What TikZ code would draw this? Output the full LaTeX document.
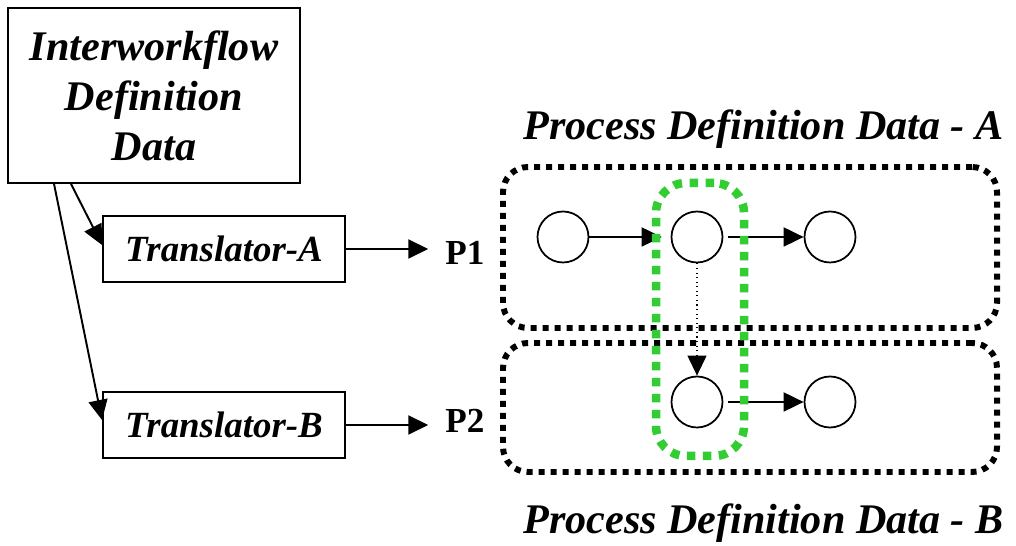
\documentclass[tikz,border=0pt]{standalone}
\usepackage{fontspec}
\setmainfont{Liberation Serif}
\usepackage{xcolor}
\usepackage{tikz}
\usetikzlibrary{arrows.meta}

\definecolor{mergegreen}{RGB}{50,205,50}

\begin{document}
\begin{tikzpicture}[
    defbox/.style={rectangle, draw, line width=1.1pt, align=center, font=\fontsize{24}{28.5}\selectfont\bfseries\itshape},
    trans/.style={rectangle, draw, line width=1.1pt, minimum width=4.84cm, minimum height=1.32cm, font=\fontsize{21}{25}\selectfont\bfseries\itshape},
    proc/.style={font=\fontsize{20}{24}\selectfont\bfseries, anchor=base},
    title/.style={font=\fontsize{24}{28}\selectfont\bfseries\itshape, anchor=base},
    act/.style={circle, draw, line width=1pt, minimum size=1.02cm, inner sep=0pt},
    link/.style={-{Triangle[length=0.4cm, width=0.38cm]}, line width=1.1pt},
    procarea/.style={rectangle, draw, rounded corners=0.5cm, line width=3.4pt, dash pattern=on 0.12cm off 0.12cm},
    merged/.style={rectangle, draw=mergegreen, rounded corners=0.6cm, line width=0.17cm, dash pattern=on 0.17cm off 0.15cm},
]
\useasboundingbox (0, 0) rectangle (20.32, 10.92);

% Interworkflow definition and translators
\node[defbox, minimum width=5.84cm, minimum height=3.5cm] (iwf) at (3.08, 9.01) {Interworkflow\\Definition\\Data};
\node[trans] (transA) at (4.48, 5.94) {Translator-A};
\node[trans] (transB) at (4.48, 2.42) {Translator-B};

% Generated processes
\node[proc] (p1) at (9.3, 5.62) {P1};
\node[proc] (p2) at (9.3, 2.26) {P2};

% Process definition areas
\node[procarea, minimum width=9.88cm, minimum height=3.22cm] (areaA) at (15.0, 5.97) {};
\node[procarea, minimum width=9.88cm, minimum height=2.58cm] (areaB) at (15.0, 2.77) {};
\node[title] (titleA) at (15.27, 8.12) {Process Definition Data - A};
\node[title] (titleB) at (15.27, 0.24) {Process Definition Data - B};

% Activities
\node[act] (a1) at (11.26, 6.18) {};
\node[act] (a2) at (13.94, 6.18) {};
\node[act] (a3) at (16.6, 6.18) {};
\node[act] (b2) at (13.94, 2.88) {};
\node[act] (b3) at (16.6, 2.88) {};

% === Translation links ===
\draw[link] ([xshift=1.28cm]iwf.south west) -- ([yshift=0.08cm]transA.west);
\draw[link] ([xshift=0.94cm]iwf.south west) -- ([yshift=0.1cm]transB.west);
\draw[link, shorten >=0.22cm] (transA.east) -- (transA.east -| p1.west);
\draw[link, shorten >=0.22cm] (transB.east) -- (transB.east -| p2.west);

% === Control flow ===
\draw[link, shorten >=0.18cm] (a1) -- (a2);
\draw[link, shorten <=0.1cm] (a2) -- (a3);
\draw[link, shorten <=0.1cm] (b2) -- (b3);
\draw[link, line width=0.6pt, dotted] (a2) -- (b2);

% Merged activities
\node[merged, minimum width=1.76cm, minimum height=5.46cm] (merge) at (14.0, 4.53) {};

\end{tikzpicture}
\end{document}
